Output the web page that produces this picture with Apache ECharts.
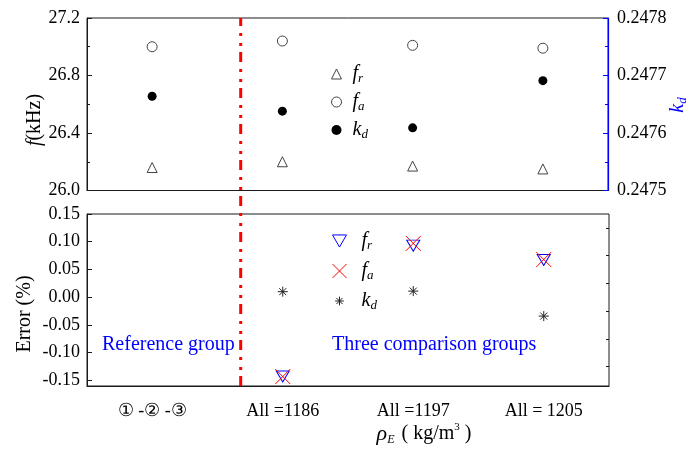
<!DOCTYPE html>
<html lang="en" style="height: 100%">
<head>
  <meta charset="utf-8" />
  <title>Frequencies and errors by density group</title>
</head>
<body style="height: 100%; margin: 0">
  <div id="container" style="width: 691px; height: 457px"></div>

  <script type="text/javascript" src="https://fastly.jsdelivr.net/npm/echarts@6.0.0/dist/echarts.min.js"></script>
  <script type="text/javascript">
    // density groups on the x axis
    var groups = ['\u2460 -\u2461 -\u2462', 'All =1186', 'All =1197', 'All = 1205'];

    // top panel: frequencies (kHz) and coupling factor
    var freqR = [26.16, 26.20, 26.17, 26.15];
    var freqA = [27.00, 27.04, 27.01, 26.99];
    var kd = [0.247664, 0.247638, 0.247609, 0.247691];

    // bottom panel: errors (%) vs reference group
    var errR = ['-', -0.143, 0.093, 0.067];
    var errA = ['-', -0.143, 0.097, 0.068];
    var errK = ['-', 0.010, 0.011, -0.034];

    var errTicks = [-0.15, -0.10, -0.05, 0, 0.05, 0.10, 0.15];
    var errMinor = [-0.125, -0.075, -0.025, 0.025, 0.075, 0.125];

    // position of the reference / comparison divider (x index units, 1-based)
    var dividerX = [1.68, 1.68];
    var dividerY = [0, 1];

    var serif = '"Liberation Serif", "Times New Roman", serif';
    var black = '#1a1a1a';

    var dom = document.getElementById('container');
    var myChart = echarts.init(dom, null, { renderer: 'canvas' });

    function legendLabel(name) {
      var s = name.split('-')[0];
      return '{m|' + s.charAt(0) + '}{s|' + s.charAt(1) + '}';
    }

    function legendText(gap) {
      return {
        fontFamily: serif,
        fontSize: 20,
        fontStyle: 'italic',
        color: '#000',
        rich: {
          m: { fontFamily: serif, fontSize: 20, fontStyle: 'italic', color: '#000', padding: [0, 0, 0, gap], lineHeight: 22 },
          s: { fontFamily: serif, fontSize: 13, fontStyle: 'italic', color: '#000', verticalAlign: 'bottom', lineHeight: 12, padding: [8, 0, 0, 0] }
        }
      };
    }

    var axisLine = { lineStyle: { color: black, width: 1 } };
    var tickLabel = { color: '#000', fontFamily: serif, fontSize: 18 };

    var option = {
      animation: false,
      backgroundColor: '#fff',
      grid: [
        { left: 87, right: 83, top: 18, bottom: 266.5, show: true, borderColor: black, borderWidth: 1 },
        { left: 87, right: 82, top: 214, bottom: 71, show: true, borderColor: black, borderWidth: 1 },
        { left: 87, right: 83, top: 18, bottom: 71, show: false }
      ],
      legend: [
        {
          orient: 'vertical', left: 326, top: 59,
          itemWidth: 10, itemHeight: 10, itemGap: 7,
          itemStyle: { borderWidth: 1 },
          data: ['fr-top', 'fa-top', 'kd-top'],
          formatter: legendLabel,
          textStyle: legendText(6)
        },
        {
          orient: 'vertical', left: 327, top: 226,
          itemWidth: 14, itemHeight: 14, itemGap: 9,
          itemStyle: { borderWidth: 1 },
          data: [
            { name: 'fr-err' },
            { name: 'fa-err' },
            { name: 'kd-err', icon: 'path://M-3,-3M13,13M5,0L5,10M0,5L10,5M1.5,1.5L8.5,8.5M8.5,1.5L1.5,8.5' }
          ],
          formatter: legendLabel,
          textStyle: legendText(10)
        }
      ],
      xAxis: [
        {
          gridIndex: 0, type: 'category', data: groups, boundaryGap: true,
          axisLine: Object.assign({ onZero: false }, axisLine),
          axisTick: { alignWithLabel: true, inside: true, length: 5, lineStyle: { color: black } },
          axisLabel: { show: false }
        },
        {
          gridIndex: 1, type: 'category', data: groups, boundaryGap: true,
          axisLine: Object.assign({ onZero: false }, axisLine),
          axisTick: { alignWithLabel: true, inside: false, length: 5, lineStyle: { color: black } },
          axisLabel: Object.assign({ margin: 16 }, tickLabel)
        },
        { gridIndex: 2, type: 'value', min: 0.5, max: 4.5, show: false }
      ],
      yAxis: [
        {
          gridIndex: 0, type: 'value', min: 26.0, max: 27.2, interval: 0.4,
          axisLine: Object.assign({ show: true }, axisLine),
          axisTick: { show: true, inside: true, length: 5, lineStyle: { color: black } },
          minorTick: { show: true, splitNumber: 2, length: 3, lineStyle: { color: black } },
          splitLine: { show: false },
          axisLabel: Object.assign({ margin: 7, formatter: function (v) { return v.toFixed(1); } }, tickLabel)
        },
        {
          gridIndex: 0, type: 'value', position: 'right', min: 0.2475, max: 0.2478, interval: 0.0001,
          axisLine: { show: true, lineStyle: { color: '#0000ff', width: 1.2 } },
          axisTick: { show: true, inside: true, length: 5, lineStyle: { color: '#0000ff' } },
          minorTick: { show: true, splitNumber: 2, length: 3, lineStyle: { color: '#0000ff' } },
          splitLine: { show: false },
          axisLabel: Object.assign({ margin: 9, formatter: function (v) { return v.toFixed(4); } }, tickLabel)
        },
        {
          gridIndex: 1, type: 'value', min: -0.16, max: 0.15,
          axisLine: Object.assign({ show: true }, axisLine),
          axisTick: { show: true, inside: true, length: 5, customValues: errTicks, lineStyle: { color: black } },
          splitLine: { show: false },
          axisLabel: Object.assign({ margin: 7, customValues: errTicks, formatter: function (v) { return v.toFixed(2); } }, tickLabel)
        },
        {
          gridIndex: 1, type: 'value', min: -0.16, max: 0.15,
          axisLine: { show: false },
          axisTick: { show: true, inside: true, length: 3, customValues: errMinor, lineStyle: { color: black } },
          splitLine: { show: false },
          axisLabel: { show: false }
        },
        { gridIndex: 2, type: 'value', min: 0, max: 1, show: false }
      ],
      graphic: [
        {
          type: 'text', x: 35, y: 120, rotation: Math.PI / 2,
          style: {
            text: '{i|f}(kHz)', align: 'center', verticalAlign: 'middle',
            font: '20px ' + serif, fill: '#000',
            rich: { i: { fontFamily: serif, fontSize: 20, fontStyle: 'italic', fill: '#000' } }
          }
        },
        {
          type: 'text', x: 25, y: 314, rotation: Math.PI / 2,
          style: { text: 'Error (%)', align: 'center', verticalAlign: 'middle', font: '20px ' + serif, fill: '#000' }
        },
        {
          type: 'text', x: 678, y: 105, rotation: Math.PI / 2,
          style: {
            text: '{i|k}{s|d}', align: 'center', verticalAlign: 'middle', fill: '#0000ff',
            rich: {
              i: { fontFamily: serif, fontSize: 20, fontStyle: 'italic', fill: '#0000ff', lineHeight: 22 },
              s: { fontFamily: serif, fontSize: 13, fontStyle: 'italic', fill: '#0000ff', verticalAlign: 'bottom', lineHeight: 12, padding: [8, 0, 0, 0] }
            }
          }
        },
        {
          type: 'text', x: 424, y: 434,
          style: {
            text: '{i|\u03c1}{sb|E} ( kg/m{sp|3} )', align: 'center', verticalAlign: 'middle',
            font: '20px ' + serif, fill: '#000',
            rich: {
              i: { fontFamily: serif, fontSize: 22, fontStyle: 'italic', fill: '#000', lineHeight: 24 },
              sb: { fontFamily: serif, fontSize: 12, fontStyle: 'italic', fill: '#000', verticalAlign: 'bottom', lineHeight: 12, padding: [9, 2, 0, 0] },
              sp: { fontFamily: serif, fontSize: 11, fill: '#000', verticalAlign: 'top', lineHeight: 11 }
            }
          }
        },
        {
          type: 'text', x: 102, y: 345,
          style: { text: 'Reference group', align: 'left', verticalAlign: 'middle', font: '20px ' + serif, fill: '#0000ff' }
        },
        {
          type: 'text', x: 332, y: 345,
          style: { text: 'Three comparison groups', align: 'left', verticalAlign: 'middle', font: '20px ' + serif, fill: '#0000ff' }
        }
      ],
      series: [
        {
          name: 'fr-top', type: 'scatter', xAxisIndex: 0, yAxisIndex: 0,
          symbol: 'triangle', symbolSize: 10,
          itemStyle: { color: '#fff', borderColor: '#444', borderWidth: 1, opacity: 1 },
          data: freqR
        },
        {
          name: 'fa-top', type: 'scatter', xAxisIndex: 0, yAxisIndex: 0,
          symbol: 'circle', symbolSize: 10,
          itemStyle: { color: '#fff', borderColor: '#444', borderWidth: 1, opacity: 1 },
          data: freqA
        },
        {
          name: 'kd-top', type: 'scatter', xAxisIndex: 0, yAxisIndex: 1,
          symbol: 'circle', symbolSize: 9,
          itemStyle: { color: '#000', opacity: 1 },
          data: kd
        },
        {
          name: 'fr-err', type: 'scatter', xAxisIndex: 1, yAxisIndex: 2,
          symbol: 'path://M0,0L10,0L5,8.66Z', symbolSize: [13, 11],
          itemStyle: { color: 'transparent', borderColor: '#0000ff', borderWidth: 1, opacity: 1 },
          data: errR
        },
        {
          name: 'fa-err', type: 'scatter', xAxisIndex: 1, yAxisIndex: 2,
          symbol: 'path://M0,0L10,10M10,0L0,10', symbolSize: 15,
          itemStyle: { color: 'transparent', borderColor: '#ff0000', borderWidth: 1, opacity: 1 },
          data: errA, z: 3
        },
        {
          name: 'kd-err', type: 'scatter', xAxisIndex: 1, yAxisIndex: 2,
          symbol: 'path://M5,0L5,10M0,5L10,5M1.5,1.5L8.5,8.5M8.5,1.5L1.5,8.5', symbolSize: 10,
          itemStyle: { color: 'transparent', borderColor: '#222', borderWidth: 1, opacity: 1 },
          data: errK
        },
        {
          name: 'divider', type: 'line', xAxisIndex: 2, yAxisIndex: 4,
          symbol: 'none', silent: true, z: 5,
          lineStyle: { color: '#ff0000', width: 3, type: [10, 6, 3, 7, 3, 7] },
          data: [[dividerX[0], dividerY[0]], [dividerX[1], dividerY[1]]]
        }
      ]
    };

    myChart.setOption(option);
    window.addEventListener('resize', myChart.resize);
  </script>
</body>
</html>
